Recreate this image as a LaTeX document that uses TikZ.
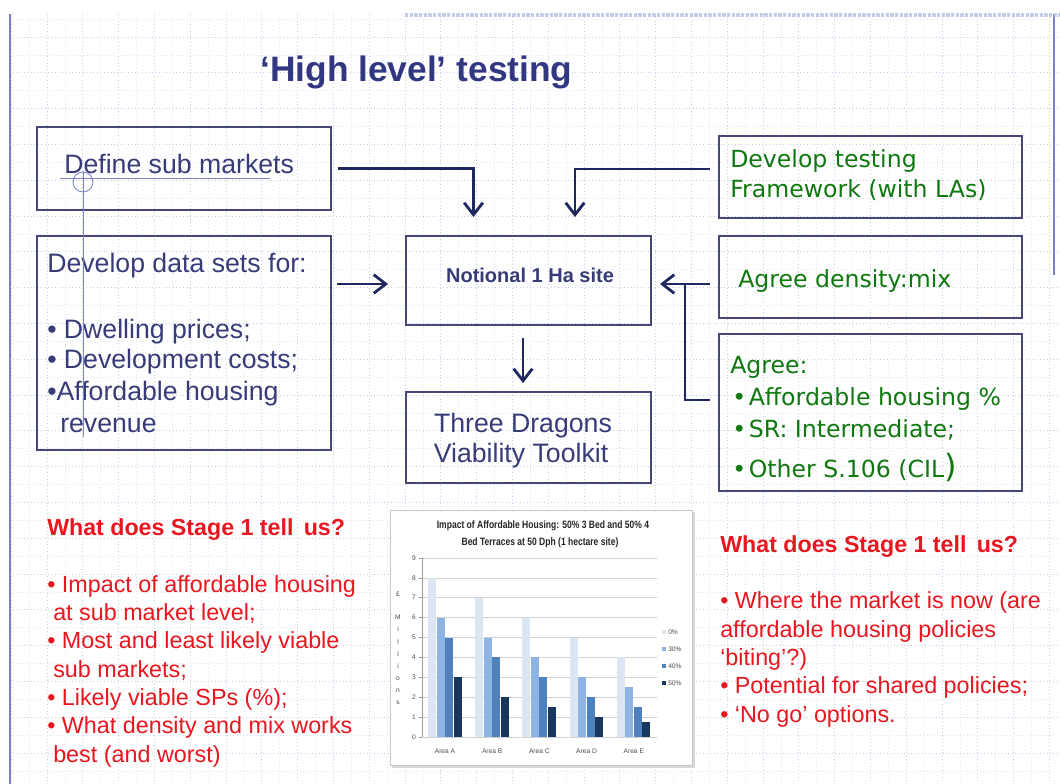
\documentclass[tikz,border=0pt]{standalone}
\usepackage{fontspec}
\usepackage{graphicx}
\setmainfont{Liberation Sans}
\newfontfamily\verd{DejaVu Sans}
\usetikzlibrary{arrows.meta,calc}
\definecolor{navy}{RGB}{30,40,95}
\definecolor{boxline}{RGB}{70,70,120}
\definecolor{boxtext}{RGB}{55,60,120}
\definecolor{titleblue}{RGB}{50,55,130}
\definecolor{grn}{RGB}{15,120,15}
\definecolor{redt}{RGB}{232,22,30}
\definecolor{gridc}{RGB}{196,204,232}
\definecolor{gridm}{RGB}{226,230,244}
\definecolor{edgec}{RGB}{120,130,200}
\definecolor{c0}{RGB}{220,230,242}
\definecolor{c30}{RGB}{142,180,227}
\definecolor{c40}{RGB}{79,129,189}
\definecolor{c50}{RGB}{23,55,94}
\begin{document}
\begin{tikzpicture}[x=0.75pt,y=-0.75pt,
 box/.style={draw=boxline, line width=1.1pt, inner sep=0pt, outer sep=0pt},
 conn/.style={draw=navy, line width=2.1pt},
 arr/.style={conn, -{Straight Barb[length=9pt,width=14pt,line width=2.1pt]}},
 txt/.style={inner sep=0pt, anchor=base west},
 bluet/.style={txt, text=boxtext, font=\fontsize{20pt}{24pt}\selectfont},
 greent/.style={txt, text=grn, font=\verd\fontsize{17.7pt}{21pt}\selectfont},
 redt/.style={txt, text=redt, font=\fontsize{17.5pt}{21pt}\selectfont},
 redh/.style={txt, text=redt, font=\bfseries\fontsize{17.4pt}{21pt}\selectfont},
 tick/.style={inner sep=0pt, text=black!70, font=\fontsize{5pt}{6pt}\selectfont},
 cgrid/.style={draw=black!18, line width=0.4pt}
]
\useasboundingbox (0,0) rectangle (1060,784);
\fill[white] (0,0) rectangle (1060,784);
% background grid
\begin{scope}
\clip (10,14) rectangle (1060,784);
\foreach \i in {0,...,30} {
  \draw[gridm, dotted, line width=0.5pt] ({11.2+35.8*\i+17.9},14) -- ({11.2+35.8*\i+17.9},784);
  \draw[gridc, dotted, line width=0.6pt] ({11.2+35.8*\i},14) -- ({11.2+35.8*\i},784);
}
\foreach \j in {0,...,22} {
  \draw[gridm, dotted, line width=0.5pt] (10,{1.2+35.8*\j+17.9}) -- (1060,{1.2+35.8*\j+17.9});
  \draw[gridc, dotted, line width=0.6pt] (10,{1.2+35.8*\j}) -- (1060,{1.2+35.8*\j});
}
\end{scope}
% slide edges
\draw[edgec, line width=1pt] (10,14) -- (10,784);
\draw[edgec, line width=1pt] (1054,14) -- (1054,275);
\draw[gridc, densely dotted, line width=2.5pt] (405,15) -- (1060,15);

% title
\node[txt, text=titleblue, font=\bfseries\fontsize{26.5pt}{30pt}\selectfont] (title) at (260,82) {‘High level’ testing};

% boxes
\node[box, minimum width=220.5pt, minimum height=62.25pt] (defbox) at (184,168.5) {};
\node[box, minimum width=220.5pt, minimum height=160.5pt] (databox) at (184,343) {};
\node[box, minimum width=183.75pt, minimum height=66.75pt] (notional) at (528.5,280.5) {};
\node[box, minimum width=183.75pt, minimum height=68.25pt] (dragons) at (528.5,437.5) {};
\node[box, minimum width=227.25pt, minimum height=61.5pt] (testbox) at (870.5,177) {};
\node[box, minimum width=227.25pt, minimum height=61.5pt] (densbox) at (870.5,277) {};
\node[box, minimum width=227.25pt, minimum height=117.75pt] (agreebox) at (870.5,412.5) {};

% box texts
\node[bluet] (t-def) at (64,174) {Define sub markets};
\node[bluet] (t-d1) at (47,273) {Develop data sets for:};
\node[bluet] (t-d2) at (47,338) {• Dwelling prices;};
\node[bluet] (t-d3) at (47,368) {• Development costs;};
\node[bluet] (t-d4) at (47,400) {•Affordable housing};
\node[bluet] (t-d5) at (60,432) {revenue};
\node[inner sep=0pt, anchor=base, text=boxtext, font=\bfseries\fontsize{15pt}{18pt}\selectfont] (t-not) at (530,283) {Notional 1 Ha site};
\node[inner sep=0pt, anchor=base, text=boxtext, font=\fontsize{20pt}{24pt}\selectfont] (t-dr1) at (523,432) {Three Dragons};
\node[inner sep=0pt, anchor=base, text=boxtext, font=\fontsize{20pt}{24pt}\selectfont] (t-dr2) at (521,462) {Viability Toolkit};
\node[greent] (t-t1) at (730,168) {Develop testing};
\node[greent] (t-t2) at (730,198) {Framework (with LAs)};
\node[greent] (t-den) at (738,288) {Agree density:mix};
\node[greent] (t-a1) at (730,373) {Agree:};
\node[greent] (t-a2) at (732,405) {•\hspace{2pt}Affordable housing \%};
\node[greent] (t-a3) at (732,437) {•\hspace{2pt}SR: Intermediate;};
\node[greent] (t-a4) at (732,477) {•\hspace{2pt}Other S.106 (CIL{\fontsize{24pt}{26pt}\selectfont )}};

% connectors
\coordinate (a1s) at ($(defbox.east)+(7,0)$);
\coordinate (a1e) at ($(notional.north)+(-55,-19)$);
\draw[arr] (a1s) -| (a1e);
\coordinate (a2s) at ($(testbox.west)+(-9,-8)$);
\coordinate (a2e) at ($(notional.north)+(46.5,-19)$);
\draw[arr] (a2s) -| (a2e);
\coordinate (a3s) at ($(databox.east)+(6,-59)$);
\coordinate (a3e) at ($(notional.west)+(-18,3.5)$);
\draw[arr] (a3s) -- (a3e);
\coordinate (a4s) at ($(densbox.west)+(-9,7)$);
\coordinate (a4e) at ($(notional.east)+(9,3.5)$);
\draw[arr] (a4s) -- (a4e);
\coordinate (a5s) at ($(agreebox.west)+(-9,-12.5)$);
\coordinate (a5j) at ($(notional.east)+(34,3.5)$);
\draw[conn] (a5s) -| (a5j);
\coordinate (a6s) at ($(notional.south)+(-5.5,13)$);
\coordinate (a6e) at ($(dragons.north)+(-5.5,-9)$);
\draw[arr] (a6s) -- (a6e);

% cursor artifact
\draw[edgec, line width=0.6pt] (83,171) -- (83,437);
\draw[edgec, line width=0.6pt] (83,182) circle[radius=7.5pt];
\draw[edgec, line width=0.6pt] (60,178) -- (270,178);

% left red text
\node[redh] (lh) at (47,535) {What does Stage 1 tell\, us?};
\node[redt] (l1) at (47,592) {• Impact of affordable housing};
\node[redt] (l2) at (53,620) {at sub market level;};
\node[redt] (l3) at (47,648) {• Most and least likely viable};
\node[redt] (l4) at (53,677) {sub markets;};
\node[redt] (l5) at (47,705) {• Likely viable SPs (\%);};
\node[redt] (l6) at (47,733) {• What density and mix works};
\node[redt] (l7) at (53,762) {best (and worst)};

% right red text
\node[redh] (rh) at (720,552) {What does Stage 1 tell\, us?};
\node[redt] (r1) at (720,608) {• Where the market is now (are};
\node[redt] (r2) at (720,637) {affordable housing policies};
\node[redt] (r3) at (720,665) {‘biting’?)};
\node[redt] (r4) at (720,693) {• Potential for shared policies;};
\node[redt] (r5) at (720,722) {• ‘No go’ options.};

% chart
\fill[white] (390,510) rectangle (692,765);
\draw[black!15, line width=2pt] (392,767) -- (694,767) -- (694,512);
\draw[black!22, line width=0.6pt] (390,510) rectangle (692,765);
\node[inner sep=0pt, anchor=base, font=\bfseries\fontsize{8pt}{9pt}\selectfont, text=black!85] (ct1) at (543,528) {\scalebox{0.8}[1]{Impact of Affordable Housing: 50\% 3 Bed and 50\% 4}};
\node[inner sep=0pt, anchor=base, font=\bfseries\fontsize{8pt}{9pt}\selectfont, text=black!85] (ct2) at (540,545) {\scalebox{0.8}[1]{Bed Terraces at 50 Dph (1 hectare site)}};
\foreach \v in {0,...,9} {
  \draw[cgrid] (422,{737-19.9*\v}) -- (657,{737-19.9*\v});
  \draw[black!40, line width=0.4pt] (419,{737-19.9*\v}) -- (422,{737-19.9*\v});
  \node[tick, anchor=east] (yt\v) at (416,{737-19.9*\v}) {\v};
}
\draw[black!40, line width=0.5pt] (422,558) -- (422,737);
\foreach \a/\va/\vb/\vc/\vd [count=\k from 0] in {A/8/6/5/3, B/7/5/4/2, C/6/4/3/1.5, D/5/3/2/1, E/4/2.5/1.5/0.75} {
  \pgfmathsetmacro\xs{428+47.2*\k}
  \fill[c0] (\xs,737) rectangle ({\xs+8},{737-19.9*\va});
  \fill[c30] ({\xs+8.5},737) rectangle ({\xs+16.5},{737-19.9*\vb});
  \fill[c40] ({\xs+17},737) rectangle ({\xs+25},{737-19.9*\vc});
  \fill[c50] ({\xs+25.5},737) rectangle ({\xs+33.5},{737-19.9*\vd});
  \node[tick, anchor=base] (area\a) at ({\xs+17},753) {Area \a};
}
\node[tick] (ylab0) at (398,594) {£};
\foreach \ch [count=\n from 0] in {M,i,l,l,i,o,n,s} {
  \node[tick] (ylab\n) at (398,{617+12.3*\n}) {\ch};
}
\foreach \lab/\col/\yy [count=\n] in {0\%/c0/632, 30\%/c30/649, 40\%/c40/666, 50\%/c50/683} {
  \fill[\col] (662,{\yy-2}) rectangle (666,{\yy+2});
  \node[tick, anchor=west] (leg\n) at (668,\yy) {\lab};
}
\end{tikzpicture}
\end{document}
